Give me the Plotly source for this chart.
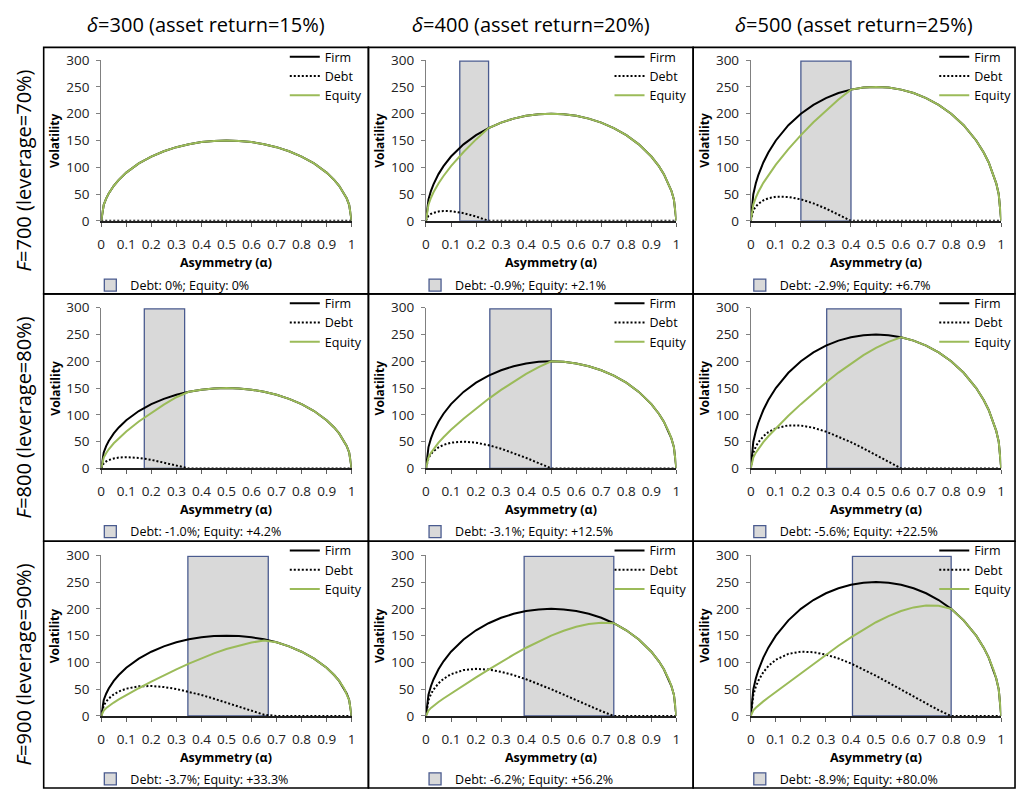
import plotly.graph_objects as go

# ---------------- data ----------------
alpha = [0, 0.01, 0.02, 0.03, 0.05, 0.07, 0.1, 0.15, 0.2, 0.25, 0.3, 0.35, 0.4, 0.45, 0.5,
         0.55, 0.6, 0.65, 0.7, 0.75, 0.8, 0.85, 0.9, 0.93, 0.95, 0.97, 0.98, 0.99, 1]

firm_300 = [0, 29.9, 42.0, 51.2, 65.4, 76.5, 90.0, 107.1, 120.0, 129.9, 137.5, 143.1, 147.0, 149.2, 150.0,
            149.2, 147.0, 143.1, 137.5, 129.9, 120.0, 107.1, 90.0, 76.5, 65.4, 51.2, 42.0, 29.9, 0]
firm_400 = [0, 39.8, 56.0, 68.2, 87.2, 102.1, 120.0, 142.8, 160.0, 173.2, 183.3, 190.8, 196.0, 199.0, 200.0,
            199.0, 196.0, 190.8, 183.3, 173.2, 160.0, 142.8, 120.0, 102.1, 87.2, 68.2, 56.0, 39.8, 0]
firm_500 = [0, 49.7, 70.0, 85.3, 109.0, 127.6, 150.0, 178.5, 200.0, 216.5, 229.1, 238.5, 244.9, 248.7, 250.0,
            248.7, 244.9, 238.5, 229.1, 216.5, 200.0, 178.5, 150.0, 127.6, 109.0, 85.3, 70.0, 49.7, 0]

debt_700_300 = [0, 0, 0, 0, 0, 0, 0, 0, 0, 0, 0, 0, 0, 0, 0,
                0, 0, 0, 0, 0, 0, 0, 0, 0, 0, 0, 0, 0, 0]
equity_700_300 = [0, 29.9, 42.0, 51.2, 65.4, 76.5, 90.0, 107.1, 120.0, 129.9, 137.5, 143.1, 147.0, 149.2, 150.0,
                  149.2, 147.0, 143.1, 137.5, 129.9, 120.0, 107.1, 90.0, 76.5, 65.4, 51.2, 42.0, 29.9, 0]
debt_700_400 = [0, 9.6, 12.9, 15.0, 17.4, 18.4, 18.0, 14.3, 8.0, 0, 0, 0, 0, 0, 0,
                0, 0, 0, 0, 0, 0, 0, 0, 0, 0, 0, 0, 0, 0]
equity_700_400 = [0, 30.2, 43.1, 53.2, 69.8, 83.7, 102.0, 128.5, 152.0, 173.2, 183.3, 190.8, 196.0, 199.0, 200.0,
                  199.0, 196.0, 190.8, 183.3, 173.2, 160.0, 142.8, 120.0, 102.1, 87.2, 68.2, 56.0, 39.8, 0]
debt_700_500 = [0, 19.4, 26.6, 31.6, 38.1, 42.1, 45.0, 44.6, 40.0, 32.5, 22.9, 11.9, 0, 0, 0,
                0, 0, 0, 0, 0, 0, 0, 0, 0, 0, 0, 0, 0, 0]
equity_700_500 = [0, 30.3, 43.4, 53.7, 70.9, 85.5, 105.0, 133.9, 160.0, 184.0, 206.2, 226.6, 244.9, 248.7, 250.0,
                  248.7, 244.9, 238.5, 229.1, 216.5, 200.0, 178.5, 150.0, 127.6, 109.0, 85.3, 70.0, 49.7, 0]

debt_800_300 = [0, 9.7, 13.2, 15.5, 18.5, 20.2, 21.0, 19.6, 16.0, 10.8, 4.6, 0, 0, 0, 0,
                0, 0, 0, 0, 0, 0, 0, 0, 0, 0, 0, 0, 0, 0]
equity_800_300 = [0, 20.2, 28.8, 35.7, 46.9, 56.3, 69.0, 87.5, 104.0, 119.1, 132.9, 143.1, 147.0, 149.2, 150.0,
                  149.2, 147.0, 143.1, 137.5, 129.9, 120.0, 107.1, 90.0, 76.5, 65.4, 51.2, 42.0, 29.9, 0]
debt_800_400 = [0, 19.5, 26.9, 32.1, 39.2, 43.9, 48.0, 50.0, 48.0, 43.3, 36.7, 28.6, 19.6, 9.9, 0,
                0, 0, 0, 0, 0, 0, 0, 0, 0, 0, 0, 0, 0, 0]
equity_800_400 = [0, 20.3, 29.1, 36.1, 48.0, 58.2, 72.0, 92.8, 112.0, 129.9, 146.6, 162.2, 176.4, 189.1, 200.0,
                  199.0, 196.0, 190.8, 183.3, 173.2, 160.0, 142.8, 120.0, 102.1, 87.2, 68.2, 56.0, 39.8, 0]
debt_800_500 = [0, 29.4, 40.6, 48.6, 59.9, 67.6, 75.0, 80.3, 80.0, 75.8, 68.7, 59.6, 49.0, 37.3, 25.0,
                12.4, 0, 0, 0, 0, 0, 0, 0, 0, 0, 0, 0, 0, 0]
equity_800_500 = [0, 20.3, 29.4, 36.7, 49.1, 60.0, 75.0, 98.2, 120.0, 140.7, 160.4, 178.9, 195.9, 211.4, 225.0,
                  236.3, 244.9, 238.5, 229.1, 216.5, 200.0, 178.5, 150.0, 127.6, 109.0, 85.3, 70.0, 49.7, 0]

debt_900_300 = [0, 19.6, 27.2, 32.6, 40.3, 45.7, 51.0, 55.3, 56.0, 54.1, 50.4, 45.3, 39.2, 32.3, 25.0,
                17.4, 9.8, 2.4, 0, 0, 0, 0, 0, 0, 0, 0, 0, 0, 0]
equity_900_300 = [0, 10.3, 14.8, 18.6, 25.1, 30.8, 39.0, 51.8, 64.0, 75.8, 87.1, 97.8, 107.8, 116.9, 125.0,
                  131.8, 137.2, 140.7, 137.5, 129.9, 120.0, 107.1, 90.0, 76.5, 65.4, 51.2, 42.0, 29.9, 0]
debt_900_400 = [0, 29.5, 40.9, 49.1, 61.0, 69.4, 78.0, 85.7, 88.0, 86.6, 82.5, 76.3, 68.6, 59.7, 50.0,
                39.8, 29.4, 19.1, 9.2, 0, 0, 0, 0, 0, 0, 0, 0, 0, 0]
equity_900_400 = [0, 10.3, 15.1, 19.1, 26.2, 32.7, 42.0, 57.1, 72.0, 86.6, 100.8, 114.5, 127.4, 139.3, 150.0,
                  159.2, 166.6, 171.7, 174.1, 173.2, 160.0, 142.8, 120.0, 102.1, 87.2, 68.2, 56.0, 39.8, 0]
debt_900_500 = [0, 39.3, 54.6, 65.7, 81.7, 93.1, 105.0, 116.0, 120.0, 119.1, 114.6, 107.3, 98.0, 87.1, 75.0,
                62.2, 49.0, 35.8, 22.9, 10.8, 0, 0, 0, 0, 0, 0, 0, 0, 0]
equity_900_500 = [0, 10.4, 15.4, 19.6, 27.3, 34.5, 45.0, 62.5, 80.0, 97.4, 114.5, 131.2, 146.9, 161.6, 175.0,
                  186.5, 195.9, 202.7, 206.2, 205.7, 200.0, 178.5, 150.0, 127.6, 109.0, 85.3, 70.0, 49.7, 0]

firm_by_delta = [firm_300, firm_400, firm_500]
debt_grid = [[debt_700_300, debt_700_400, debt_700_500],
             [debt_800_300, debt_800_400, debt_800_500],
             [debt_900_300, debt_900_400, debt_900_500]]
equity_grid = [[equity_700_300, equity_700_400, equity_700_500],
               [equity_800_300, equity_800_400, equity_800_500],
               [equity_900_300, equity_900_400, equity_900_500]]

# shaded band (alpha range) per panel
band_left = [[None, 0.135, 0.2], [0.172, 0.255, 0.303], [0.346, 0.392, 0.406]]
band_right = [[None, 0.25, 0.4], [0.333, 0.5, 0.6], [0.667, 0.75, 0.8]]
band_top = 298

band_notes = [["Debt: 0%; Equity: 0%", "Debt: -0.9%; Equity: +2.1%", "Debt: -2.9%; Equity: +6.7%"],
              ["Debt: -1.0%; Equity: +4.2%", "Debt: -3.1%; Equity: +12.5%", "Debt: -5.6%; Equity: +22.5%"],
              ["Debt: -3.7%; Equity: +33.3%", "Debt: -6.2%; Equity: +56.2%", "Debt: -8.9%; Equity: +80.0%"]]

col_titles = ["<i>δ</i>=300 (asset return=15%)", "<i>δ</i>=400 (asset return=20%)",
              "<i>δ</i>=500 (asset return=25%)"]
row_titles = ["<i>F</i>=700 (leverage=70%)", "<i>F</i>=800 (leverage=80%)", "<i>F</i>=900 (leverage=90%)"]

x_ticks = [0, 0.1, 0.2, 0.3, 0.4, 0.5, 0.6, 0.7, 0.8, 0.9, 1]
y_ticks = [0, 50, 100, 150, 200, 250, 300]

# ---------------- layout geometry (pixels) ----------------
W, H = 1022, 798
FONT = "Open Sans"
GREEN = "#9BBB59"
PLOT_X0 = [98, 425.3, 752.7]     # pixel of alpha=0 per column
PLOT_W = 252.4
PLOT_Y0 = [216.7, 470.0, 723.3]  # pixel of vol=0 per row
PLOT_H = 164.4
COL_B = [40, 367.3, 694.6, 1019]
ROW_B = [39.3, 291.5, 544.5, 797]


def px(x):
    return x / W


def py(y):
    return 1 - y / H


fig = go.Figure()
layout = {}
annotations = []
shapes = []

for r in range(3):
    for c in range(3):
        k = r * 3 + c
        n = "" if k == 0 else str(k + 1)
        xa, ya = "x" + n, "y" + n
        leg_lines = "legend" if k == 0 else "legend" + str(2 * k + 1)
        leg_band = "legend" + str(2 * k + 2)

        x0 = PLOT_X0[c]
        y0 = PLOT_Y0[r]
        layout["xaxis" + n] = dict(
            domain=[px(x0), px(x0 + PLOT_W)], anchor=ya, range=[0, 1],
            tickvals=x_ticks, ticktext=[str(v) for v in x_ticks],
            showgrid=False, zeroline=False, showline=True, linecolor="#202020", linewidth=1.5,
            ticks="outside", ticklen=4, tickcolor="#606060",
            tickfont=dict(family=FONT, size=13.5, color="#222222"), ticklabelstandoff=6,
            fixedrange=True)
        layout["yaxis" + n] = dict(
            domain=[py(y0), py(y0 - PLOT_H)], anchor=xa, range=[0, 300],
            tickvals=y_ticks, showgrid=False, zeroline=False, showline=True,
            linecolor="#808080", linewidth=1, ticks="outside", ticklen=4, tickcolor="#808080",
            tickfont=dict(family=FONT, size=13.5, color="#222222"), ticklabelstandoff=4,
            fixedrange=True)

        # shaded band drawn as a bar through the axes
        lft, rgt = band_left[r][c], band_right[r][c]
        if lft is not None:
            bx, bw, by = [(lft + rgt) / 2], [rgt - lft], [band_top]
        else:
            bx, bw, by = [0.5], [0.1], [None]
        fig.add_trace(go.Bar(
            x=bx, y=by, width=bw, base=0, name=band_notes[r][c],
            marker=dict(color="#D9D9D9", line=dict(color="#4A5B8F", width=1.3)),
            xaxis=xa, yaxis=ya, legend=leg_band, showlegend=True, hoverinfo="skip"))

        fig.add_trace(go.Scatter(
            x=alpha, y=firm_by_delta[c], mode="lines", name="Firm",
            line=dict(color="black", width=2), xaxis=xa, yaxis=ya, legend=leg_lines))
        fig.add_trace(go.Scatter(
            x=alpha, y=debt_grid[r][c], mode="lines", name="Debt",
            line=dict(color="black", width=2, dash="2px,2px"), xaxis=xa, yaxis=ya, legend=leg_lines))
        fig.add_trace(go.Scatter(
            x=alpha, y=equity_grid[r][c], mode="lines", name="Equity",
            line=dict(color=GREEN, width=2), xaxis=xa, yaxis=ya, legend=leg_lines))

        layout[leg_lines] = dict(
            x=px(COL_B[c] + 243), y=py(ROW_B[r] - 5.5), xanchor="left", yanchor="top",
            bgcolor="rgba(0,0,0,0)", font=dict(family=FONT, size=12.5, color="black"),
            tracegroupgap=0, traceorder="normal", itemclick=False, itemdoubleclick=False)
        layout[leg_band] = dict(
            x=px(COL_B[c] + 47), y=py(ROW_B[r] + 243.5), xanchor="left", yanchor="middle",
            bgcolor="rgba(0,0,0,0)", font=dict(family=FONT, size=12.5, color="black"),
            itemclick=False, itemdoubleclick=False)

        # axis titles
        annotations.append(dict(
            text="<b>Volatility</b>", textangle=-90, x=px(x0 - 47), y=py(y0 - PLOT_H / 2),
            xref="paper", yref="paper", showarrow=False, xanchor="center", yanchor="middle",
            font=dict(family=FONT, size=12, color="black")))
        annotations.append(dict(
            text="<b>Asymmetry (α)</b>", x=px(x0 + PLOT_W / 2), y=py(y0 + 42.5),
            xref="paper", yref="paper", showarrow=False, xanchor="center", yanchor="middle",
            font=dict(family=FONT, size=12.5, color="black")))

        # panel border
        shapes.append(dict(type="rect", xref="paper", yref="paper",
                           x0=px(COL_B[c]), x1=px(COL_B[c + 1]),
                           y0=py(ROW_B[r]), y1=py(ROW_B[r + 1]),
                           line=dict(color="black", width=1.6), fillcolor="rgba(0,0,0,0)"))

for c in range(3):
    annotations.append(dict(
        text=col_titles[c], x=px((COL_B[c] + COL_B[c + 1]) / 2), y=py(16),
        xref="paper", yref="paper", showarrow=False, xanchor="center", yanchor="middle",
        font=dict(family=FONT, size=20, color="black")))
for r in range(3):
    annotations.append(dict(
        text=row_titles[r], textangle=-90, x=px(20), y=py((ROW_B[r] + ROW_B[r + 1]) / 2),
        xref="paper", yref="paper", showarrow=False, xanchor="center", yanchor="middle",
        font=dict(family=FONT, size=20, color="black")))

fig.update_layout(
    width=W, height=H, margin=dict(l=0, r=0, t=0, b=0),
    paper_bgcolor="white", plot_bgcolor="white",
    font=dict(family=FONT, color="black"),
    annotations=annotations, shapes=shapes, showlegend=True, barmode="overlay",
    **layout)

fig.write_html("out.html", config={"displayModeBar": False},
               post_script="document.body.style.margin='0px';document.body.style.overflow='hidden';")
